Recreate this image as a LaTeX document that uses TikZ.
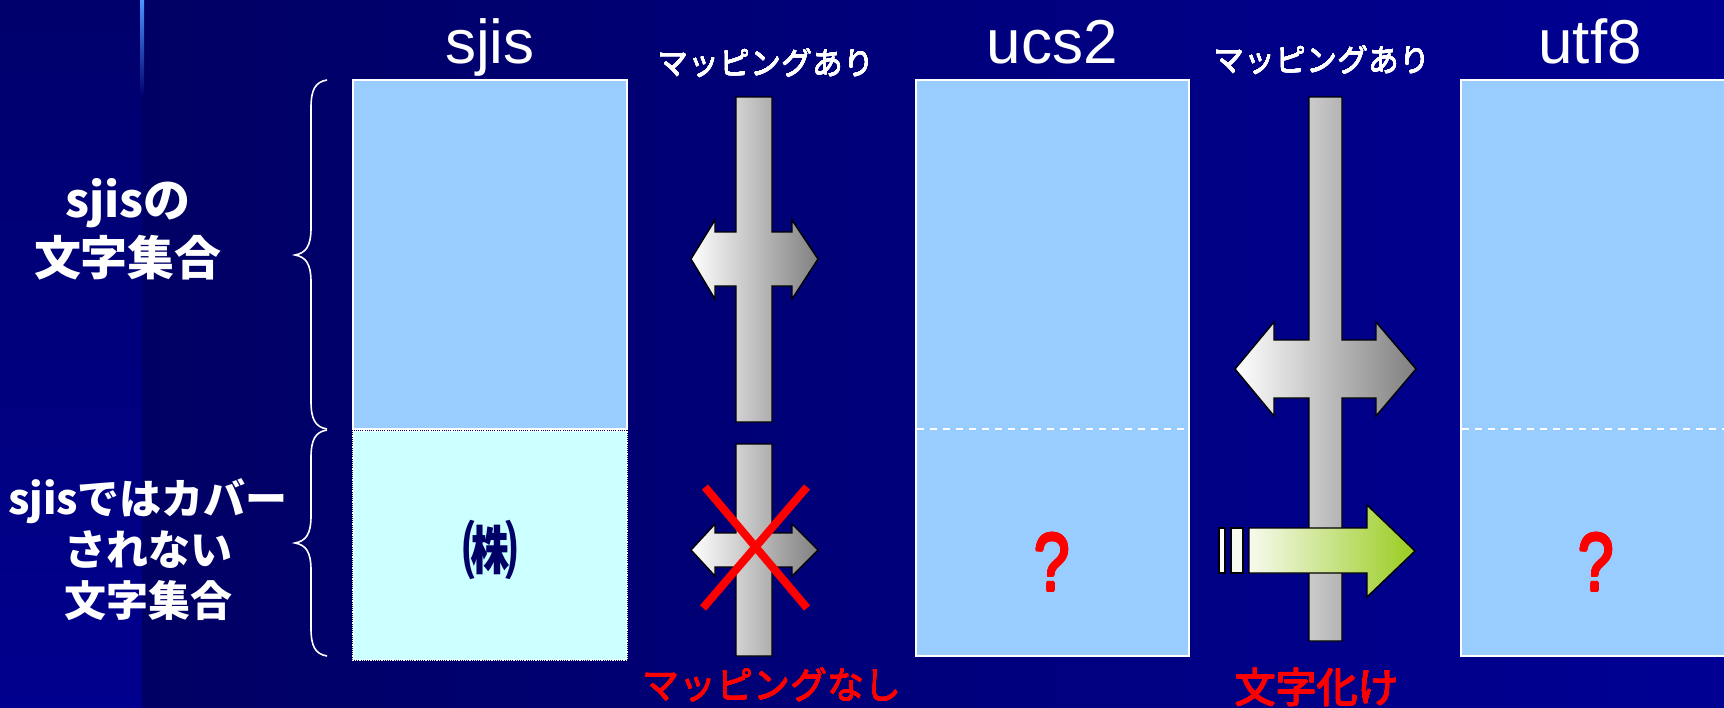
\documentclass[tikz,border=0pt]{standalone}
\usepackage{graphicx}
\usepackage{fontspec}
\usepackage{contour}
\contournumber{16}
\setmainfont{Liberation Sans}
\newfontfamily\jp{Noto Sans CJK JP}
\definecolor{bgA}{HTML}{000064}
\definecolor{bgB}{HTML}{000094}
\definecolor{stripA}{HTML}{00006C}
\definecolor{stripB}{HTML}{00008E}
\definecolor{boxblue}{HTML}{99CCFF}
\definecolor{boxcyan}{HTML}{CCFFFF}
\definecolor{navy}{HTML}{000066}
\definecolor{greenR}{HTML}{99CC1F}
\definecolor{greenL}{HTML}{F7FAEE}
\definecolor{redtxt}{HTML}{FF0000}
\newcommand{\thickw}[1]{\contourlength{0.35pt}\contour{white}{#1}}
\newcommand{\thickr}[1]{\contourlength{0.45pt}\contour{redtxt}{#1}}
\newcommand{\thickq}[1]{\contourlength{1.3pt}\contour{redtxt}{#1}}
\tikzset{
  box/.style={fill=boxblue, draw=white, line width=1.6pt},
  divline/.style={draw=white, line width=1.6pt, dash pattern=on 7pt off 6pt},
  hdr/.style={text=white, inner sep=0pt, font=\fontsize{62}{62}\selectfont},
  maplbl/.style={text=white, inner sep=0pt, font=\jp\fontsize{31}{31}\selectfont},
  sidelbl/.style={text=white, inner sep=0pt, align=center},
  redlbl/.style={text=redtxt, inner sep=0pt},
  qmark/.style={text=redtxt, inner sep=0pt, font=\fontsize{82}{82}\selectfont},
  grayarrow/.style={draw=black, line width=1.4pt, line join=miter, left color=white, right color=gray},
  greenarrow/.style={draw=black, line width=1.4pt, left color=greenL, right color=greenR},
  bracepath/.style={draw=white, line width=1.6pt},
}
\begin{document}
\begin{tikzpicture}[x=1pt, y=-1pt]
\useasboundingbox (0,0) rectangle (1724,707);
\clip (0,0) rectangle (1724,707);
% background
\fill[left color=bgA, right color=bgB] (142,0) rectangle (1724,707);
\fill[top color=stripA, bottom color=stripB] (0,0) rectangle (142,707);
\fill[top color=blue!60!cyan!70, bottom color=stripA] (140,0) rectangle (144,96);

% boxes
\fill[boxcyan] (353,431) rectangle (627,660);
\draw[white, line width=1.2pt, densely dotted] (353,431) rectangle (627,660);
\draw[box] (353,80) rectangle (627,429);
\draw[box] (916,80) rectangle (1189,656);
\draw[divline] (917,429) -- (1188,429);
\draw[box] (1461,80) rectangle (1740,656);
\draw[divline] (1462,429) -- (1724,429);

% headers
\node[hdr, anchor=base] (hsjis) at (490,63) {sjis};
\node[hdr, anchor=base] (hucs) at (1052,63) {ucs2};
\node[hdr, anchor=base] (hutf) at (1590,63) {utf8};
\node[maplbl] (map1) at (766,63) {\thickw{マッピングあり}};
\node[maplbl] (map2) at (1322,60) {\thickw{マッピングあり}};

% braces
\draw[bracepath] (327,80) .. controls (315,82) and (311,90) .. (311,108) -- (311,228)
  .. controls (311,246) and (306,253) .. (295,255) .. controls (306,257) and (311,264) .. (311,282)
  -- (311,401) .. controls (311,419) and (315,427) .. (327,429);
\draw[bracepath] (327,430) .. controls (315,432) and (311,440) .. (311,458) -- (311,516)
  .. controls (311,534) and (306,541) .. (295,543) .. controls (306,545) and (311,552) .. (311,570)
  -- (311,628) .. controls (311,646) and (315,654) .. (327,656);

% side labels
\node[sidelbl, font=\jp\bfseries\fontsize{47}{58}\selectfont] (side1) at (128,229) {sjisの\\文字集合};
\node[sidelbl, font=\jp\bfseries\fontsize{42}{51}\selectfont] (side2) at (148,550) {sjisではカバー\\されない\\文字集合};

% (kabu)
\node[text=navy, inner sep=0pt, font=\jp\bfseries\fontsize{62}{62}\selectfont] (kabu) at (490,550) {\scalebox{0.9}[1]{㈱}};

% column 1 crosses
\path[grayarrow] (736,97) -- (772,97) -- (772,232) -- (792,232) -- (792,220) -- (818,259) -- (792,299) -- (792,286) -- (772,286) -- (772,422) -- (736,422) -- (736,286) -- (715,286) -- (715,299) -- (691,259) -- (715,220) -- (715,232) -- (736,232) -- cycle;
\path[grayarrow] (736,444) -- (772,444) -- (772,533) -- (792,533) -- (792,524) -- (818,550) -- (792,576) -- (792,567) -- (772,567) -- (772,656) -- (736,656) -- (736,567) -- (715,567) -- (715,576) -- (691,550) -- (715,524) -- (715,533) -- (736,533) -- cycle;
\draw[redtxt, line width=8pt] (705,487) -- (807,608) (807,487) -- (703,608);

% column 2 cross
\path[grayarrow] (1309,97) -- (1342,97) -- (1342,340) -- (1376,340) -- (1376,322) -- (1416,369) -- (1376,416) -- (1376,398) -- (1342,398) -- (1342,641) -- (1309,641) -- (1309,398) -- (1274,398) -- (1274,416) -- (1235,369) -- (1274,322) -- (1274,340) -- (1309,340) -- cycle;
% green arrow
\draw[black, line width=1.4pt, fill=white] (1219,528) rectangle (1225,573);
\draw[black, line width=1.4pt, fill=greenL] (1231,528) rectangle (1243,573);
\path[greenarrow] (1249,528) -- (1367,528) -- (1367,505) -- (1415,551) -- (1367,597) -- (1367,573) -- (1249,573) -- cycle;

% question marks
\node[qmark] (q1) at (1052,563) {\scalebox{0.78}[1]{\thickq{?}}};
\node[qmark] (q2) at (1596,563) {\scalebox{0.78}[1]{\thickq{?}}};

% red labels
\node[redlbl, anchor=north, font=\jp\fontsize{37}{37}\selectfont] (nomap) at (772,668) {\thickr{マッピングなし}};
\node[redlbl, anchor=north, font=\jp\fontsize{41}{41}\selectfont] (moji) at (1317,668) {\thickr{文字化け}};
\end{tikzpicture}
\end{document}
